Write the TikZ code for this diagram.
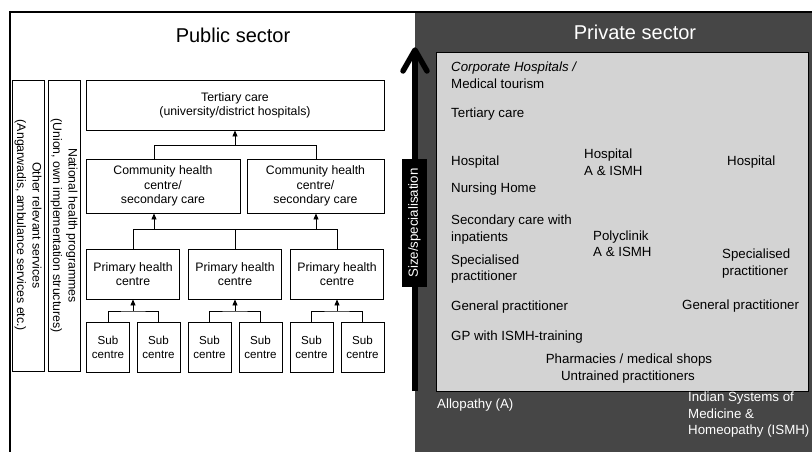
\documentclass[tikz,border=0pt]{standalone}
\usepackage{fontspec}
\setmainfont{Liberation Sans}
\usetikzlibrary{arrows.meta,calc}
\definecolor{darkpanel}{RGB}{70,70,70}
\definecolor{greybox}{RGB}{211,211,211}
\newcommand\lfont{\fontsize{12.3}{14.3}\selectfont}
\newcommand\rfont{\fontsize{13.3}{16.5}\selectfont}
\newcommand\tfont{\fontsize{20}{24}\selectfont}
\tikzset{
  box/.style={draw, line width=0.9pt, fill=white, align=center, inner sep=0pt, font=\lfont},
  subbox/.style={box, minimum width=43pt, minimum height=50pt, font=\fontsize{11.6}{14}\selectfont},
  phcbox/.style={box, minimum width=93pt, minimum height=50pt},
  vbox/.style={box, rotate=-90, minimum width=291pt, minimum height=32pt, font=\fontsize{12.3}{15.5}\selectfont},
  conn/.style={line width=0.9pt},
  arr/.style={conn, -{Triangle[length=6pt,width=5pt]}},
  ptext/.style={font=\rfont, align=left, inner sep=0pt, anchor=west},
  wtext/.style={ptext, text=white},
  title/.style={font=\tfont, inner sep=0pt},
}
\begin{document}
\begin{tikzpicture}[x=1pt,y=-1pt]
\useasboundingbox (0,0) rectangle (812,452);
% panels
\fill[darkpanel] (415,12) rectangle (812,452);
\draw[line width=2pt] (9,12) -- (812,12);
\draw[line width=1.6pt] (10,11) -- (10,452);
\draw[fill=greybox, line width=0.9pt] (436,52) rectangle (808,391);

% titles
\node[title] (pubtitle) at (233,35) {Public sector};
\node[title, text=white] (privtitle) at (635,32) {Private sector};

% public sector boxes
\node[vbox] (other) at (28,225.5) {Other relevant services\\(Angarwadis, ambulance services etc.)};
\node[vbox] (nhp) at (64,225.5) {National health programmes\\(Union, own implementation structures)};
\node[box, minimum width=298pt, minimum height=50pt] (tert) at (235,105) {Tertiary care\\(university/district hospitals)};
\node[box, minimum width=154pt, minimum height=54pt] (chc1) at (163,186) {Community health\\centre/\\secondary care};
\node[box, minimum width=137pt, minimum height=54pt] (chc2) at (315.5,186) {Community health\\centre/\\secondary care};
\node[phcbox] (phc1) at (133,274) {Primary health\\centre};
\node[phcbox] (phc2) at (235,274) {Primary health\\centre};
\node[phcbox] (phc3) at (337,274) {Primary health\\centre};
\node[subbox] (s1) at (108,347) {Sub\\centre};
\node[subbox] (s2) at (158.5,347) {Sub\\centre};
\node[subbox] (s3) at (209.5,347) {Sub\\centre};
\node[subbox] (s4) at (260.5,347) {Sub\\centre};
\node[subbox] (s5) at (311.5,347) {Sub\\centre};
\node[subbox] (s6) at (362.5,347) {Sub\\centre};

% connectors: CHC -> tertiary
\coordinate (ja) at (154,145);
\coordinate (jb) at (235,145);
\coordinate (jc) at (316,145);
\draw[conn] (ja |- chc1.north) -- (ja) -- (jc) -- (jc |- chc2.north);
\draw[arr] (jb) -- (tert.south);
% PHC -> CHC
\coordinate (ka) at (133,229);
\coordinate (kb) at (154,229);
\coordinate (kc) at (235,229);
\coordinate (kd) at (316,229);
\coordinate (ke) at (337,229);
\draw[conn] (ka |- phc1.north) -- (ka) -- (ke) -- (ke |- phc3.north);
\draw[conn] (kc) -- (kc |- phc2.north);
\draw[arr] (kb) -- (kb |- chc1.south);
\draw[arr] (kd) -- (kd |- chc2.south);
% Sub -> PHC
\coordinate (la) at (133,311);
\coordinate (lb) at (235,311);
\coordinate (lc) at (337,311);
\draw[conn] (s1.north) |- (la) -| (s2.north);
\draw[conn] (s3.north) |- (lb) -| (s4.north);
\draw[conn] (s5.north) |- (lc) -| (s6.north);
\draw[arr] (la) -- (phc1.south);
\draw[arr] (lb) -- (phc2.south);
\draw[arr] (lc) -- (phc3.south);

% size / specialisation arrow
\coordinate (arrbot) at (415,391);
\coordinate (arrtop) at (415,50);
\draw[line width=6pt] (arrbot) -- ($(arrtop)+(0,3)$);
\draw[line width=5.5pt, line cap=round, line join=round] ($(arrtop)+(-12,21)$) -- (arrtop) -- ($(arrtop)+(12,21)$);
\node[fill=black, text=white, rotate=90, minimum width=128pt, minimum height=25pt, inner sep=0pt, font=\rfont] (sizelabel) at (414.5,223) {Size/specialisation};

% private sector texts
\node[ptext] (corp) at (451,75) {\textit{Corporate Hospitals /}\\Medical tourism};
\node[ptext] (tertp) at (451,114) {Tertiary care};
\node[ptext] (hospA) at (451,162) {Hospital};
\node[ptext] (hospM) at (584,162) {Hospital\\A \& ISMH};
\node[ptext] (hospI) at (727,162) {Hospital};
\node[ptext] (nurs) at (451,189) {Nursing Home};
\node[ptext] (second) at (451,229.5) {Secondary care with\\inpatients};
\node[ptext] (poly) at (593,243.5) {Polyclinik\\A \& ISMH};
\node[ptext] (specA) at (451,269) {Specialised\\practitioner};
\node[ptext] (specI) at (722,263.5) {Specialised\\practitioner};
\node[ptext] (gpA) at (451,307) {General practitioner};
\node[ptext] (gpI) at (682,306) {General practitioner};
\node[ptext] (gpism) at (451,337) {GP with ISMH-training};
\node[ptext, anchor=center] (pharm) at (629,360) {Pharmacies / medical shops};
\node[ptext, anchor=center] (untr) at (628,377) {Untrained practitioners};
\node[wtext] (allo) at (437,405) {Allopathy (A)};
\node[wtext] (ismh) at (688,415) {Indian Systems of\\Medicine \&\\Homeopathy (ISMH)};
\end{tikzpicture}
\end{document}
